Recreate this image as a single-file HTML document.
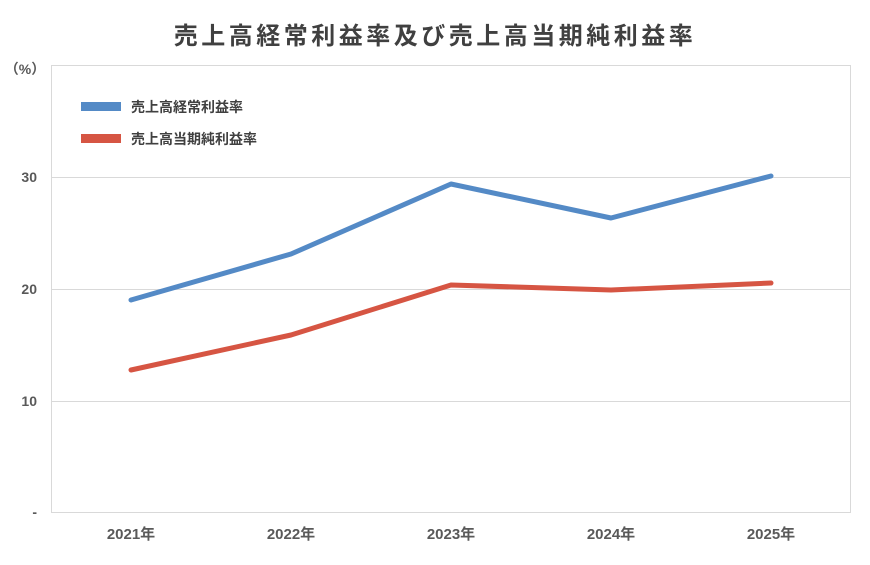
<!DOCTYPE html>
<html><head><meta charset="utf-8"><style>
body{margin:0;background:#fff}
svg text{font-family:"Liberation Sans","Noto Sans CJK JP",sans-serif;fill:#595959}
</style></head><body>
<svg width="870" height="560" viewBox="0 0 870 560" xmlns="http://www.w3.org/2000/svg">
<text x="435" y="44" text-anchor="middle" font-size="24" font-weight="bold" style="fill:#404040;letter-spacing:3.5px">売上高経常利益率及び売上高当期純利益率</text>
<rect x="51.5" y="65.5" width="799" height="447" fill="none" stroke="#d9d9d9"/>
<g stroke="#d9d9d9" stroke-width="1">
<line x1="51" y1="177.5" x2="851" y2="177.5"/>
<line x1="51" y1="289.5" x2="851" y2="289.5"/>
<line x1="51" y1="401.5" x2="851" y2="401.5"/>
</g>
<g font-size="14" font-weight="bold" text-anchor="end">
<text x="37" y="182">30</text>
<text x="37" y="294">20</text>
<text x="37" y="406">10</text>
<text x="37" y="517">-</text>
</g>
<text x="25" y="74" font-size="14" text-anchor="middle" font-weight="bold">（%）</text>
<g font-size="15" font-weight="bold" text-anchor="middle">
<text x="131" y="539">2021年</text>
<text x="291" y="539">2022年</text>
<text x="451" y="539">2023年</text>
<text x="611" y="539">2024年</text>
<text x="771" y="539">2025年</text>
</g>
<polyline points="131,300 291,254 451,184 611,218 771,176" fill="none" stroke="#548ac6" stroke-width="5" stroke-linejoin="round" stroke-linecap="round"/>
<polyline points="131,370 291,335 451,285 611,290 771,283" fill="none" stroke="#d65543" stroke-width="5" stroke-linejoin="round" stroke-linecap="round"/>
<rect x="81" y="102" width="40" height="9" fill="#548ac6"/>
<rect x="81" y="134" width="40" height="9" fill="#d65543"/>
<text x="131" y="112" font-size="14" font-weight="bold" style="fill:#404040">売上高経常利益率</text>
<text x="131" y="144" font-size="14" font-weight="bold" style="fill:#404040">売上高当期純利益率</text>
</svg>
</body></html>
